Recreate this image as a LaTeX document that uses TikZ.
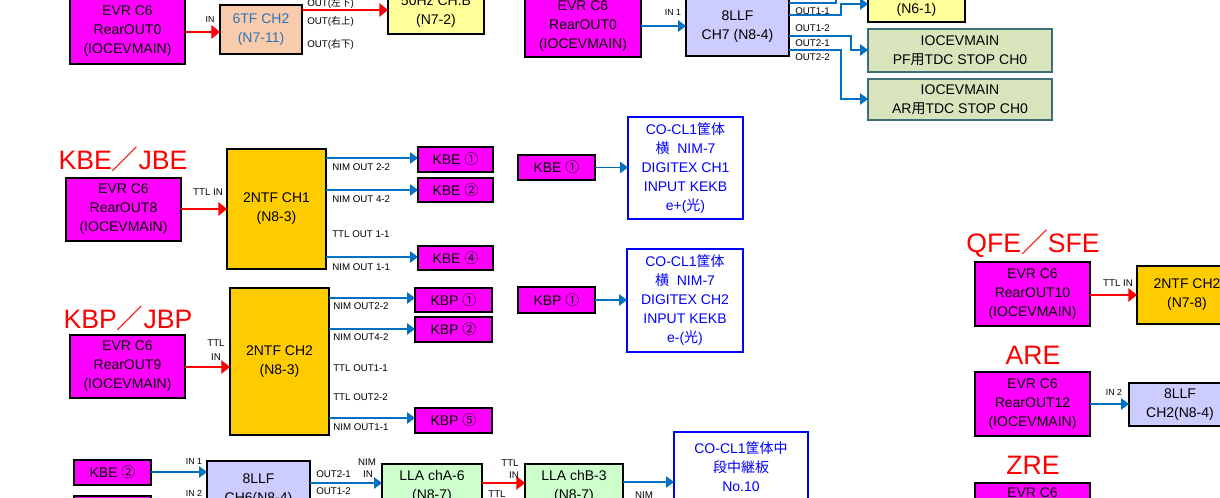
\documentclass[tikz,border=0pt]{standalone}
\usepackage{fontspec}
\setmainfont{Liberation Sans}
\newfontfamily\jp{Noto Sans CJK JP}
\usetikzlibrary{arrows.meta}
\definecolor{mag}{HTML}{FF00FF}
\definecolor{peach}{HTML}{F8CBAD}
\definecolor{lyel}{HTML}{FFFF99}
\definecolor{lav}{HTML}{CCCCFF}
\definecolor{gold}{HTML}{FFCC00}
\definecolor{lgrn}{HTML}{CCFFCC}
\definecolor{pfg}{HTML}{D8E4BC}
\definecolor{pfb}{HTML}{3E6E78}
\definecolor{arrb}{HTML}{0070C0}
\definecolor{tfb}{HTML}{2E75B6}
\definecolor{cob}{HTML}{0000FF}
\newcommand\mybox[7]{%
  \node[#2, minimum width={((#5)-(#3))*0.75pt}, minimum height={((#6)-(#4))*0.75pt}] (#1) at ({((#3)+(#5))/2},{((#4)+(#6))/2}) {#7};}
\tikzset{
  bx/.style={draw=black, line width=1.4pt, inner sep=0pt, outer sep=0pt, align=center,
    font=\fontsize{10.5pt}{14.25pt}\selectfont},
  magbox/.style={bx, fill=mag},
  peachbox/.style={bx, fill=peach, text=tfb},
  yelbox/.style={bx, fill=lyel},
  lavbox/.style={bx, fill=lav},
  goldbox/.style={bx, fill=gold},
  grnbox/.style={bx, fill=lgrn},
  pfbox/.style={bx, draw=pfb, fill=pfg},
  cobox/.style={bx, draw=cob, fill=white, text=cob},
  redarr/.style={draw=red, line width=1.5pt, -{Triangle[length=6.5pt,width=10pt]}},
  bluearr/.style={draw=arrb, line width=1.3pt, -{Triangle[length=6pt,width=8.5pt]}},
  blueline/.style={draw=arrb, line width=1.3pt},
  lbl/.style={inner sep=0pt, font=\fontsize{7.3pt}{8pt}\selectfont},
  lbls/.style={inner sep=0pt, font=\fontsize{6.6pt}{8pt}\selectfont},
  ttl/.style={inner sep=0pt, text=red, font=\fontsize{20pt}{22pt}\selectfont},
}
\begin{document}
\begin{tikzpicture}[x=0.75pt,y=-0.75pt]
\useasboundingbox (0,0) rectangle (1220,498);
\clip (0,0) rectangle (1220,498);
\fill[white] (0,0) rectangle (1220,498);

% ---------- top left
\mybox{evrA}{magbox}{70}{-2}{185}{64}{EVR C6\\RearOUT0\\(IOCEVMAIN)}
\mybox{tf6}{peachbox}{220}{5}{302}{54}{6TF CH2\\(N7-11)}
\mybox{hz50}{yelbox}{388}{-10}{484}{34}{50Hz CH.B\\(N7-2)}
\draw[redarr] (evrA.east |- 0,32) -- (tf6.west |- 0,32);
\node[lbls] (lIN) at (210,19) {IN};
\draw[redarr] (tf6.east |- 0,10) -- (hz50.west |- 0,10);
\node[lbl, anchor=west] (o1) at (307,3) {OUT({\jp 左下})};
\node[lbl, anchor=west] (o2) at (307,21) {OUT({\jp 右上})};
\node[lbl, anchor=west] (o3) at (307,44) {OUT({\jp 右下})};

% ---------- top middle
\mybox{evrB}{magbox}{525}{-5}{641}{57}{EVR C6\\RearOUT0\\(IOCEVMAIN)}
\mybox{llf7}{lavbox}{686}{-2}{789}{56}{8LLF\\CH7 (N8-4)}
\mybox{n61}{yelbox}{868}{-2}{965}{22}{(N6-1)}
\mybox{pf}{pfbox}{868}{29}{1052}{72}{IOCEVMAIN\\PF{\jp 用}TDC STOP CH0}
\mybox{ar}{pfbox}{868}{79}{1052}{120}{IOCEVMAIN\\AR{\jp 用}TDC STOP CH0}
\draw[bluearr] (evrB.east |- 0,26) -- (llf7.west |- 0,26);
\node[lbls] (lIN1) at (673,12) {IN 1};
\draw[blueline] (llf7.east |- 0,3) -- (836,3) -- (836,-5);
\draw[bluearr] (llf7.east |- 0,15) -- (841,15) -- (841,4) -- (n61.west |- 0,4);
\draw[bluearr] (llf7.east |- 0,36) -- (851,36) -- (851,50) -- (pf.west |- 0,50);
\draw[bluearr] (llf7.east |- 0,50) -- (841,50) -- (841,99) -- (ar.west |- 0,99);
\node[lbl, anchor=west] at (795,11) {OUT1-1};
\node[lbl, anchor=west] at (795,28) {OUT1-2};
\node[lbl, anchor=west] at (795,43) {OUT2-1};
\node[lbl, anchor=west] at (795,57) {OUT2-2};

% ---------- KBE
\node[ttl] (tKBE) at (123,159) {KBE{\jp ／}JBE};
\mybox{evr8}{magbox}{66}{178}{181}{241}{EVR C6\\RearOUT8\\(IOCEVMAIN)}
\mybox{ntf1}{goldbox}{227}{149}{326}{269}{2NTF CH1\\(N8-3)}
\mybox{kbe1}{magbox}{418}{147}{493}{172}{KBE {\jp ①}}
\mybox{kbe2}{magbox}{418}{178}{493}{202}{KBE {\jp ②}}
\mybox{kbe4}{magbox}{418}{246}{493}{270}{KBE {\jp ④}}
\draw[redarr] (evr8.east |- 0,209) -- (ntf1.west |- 0,209);
\node[lbl] at (208,192) {TTL IN};
\draw[bluearr] (ntf1.east |- 0,158) -- (kbe1.west |- 0,158);
\draw[bluearr] (ntf1.east |- 0,190) -- (kbe2.west |- 0,190);
\draw[bluearr] (ntf1.east |- 0,257) -- (kbe4.west |- 0,257);
\node[lbl, anchor=west] at (332,167) {NIM OUT 2-2};
\node[lbl, anchor=west] at (332,199) {NIM OUT 4-2};
\node[lbl, anchor=west] at (332,234) {TTL OUT 1-1};
\node[lbl, anchor=west] at (332,267) {NIM OUT 1-1};

% ---------- KBP
\node[ttl] (tKBP) at (128,318) {KBP{\jp ／}JBP};
\mybox{evr9}{magbox}{70}{335}{185}{398}{EVR C6\\RearOUT9\\(IOCEVMAIN)}
\mybox{ntf2}{goldbox}{230}{288}{329}{435}{2NTF CH2\\(N8-3)}
\mybox{kbp1}{magbox}{415}{288}{492}{312}{KBP {\jp ①}}
\mybox{kbp2}{magbox}{415}{317}{492}{342}{KBP {\jp ②}}
\mybox{kbp5}{magbox}{415}{408}{492}{433}{KBP {\jp ⑤}}
\draw[redarr] (evr9.east |- 0,367) -- (ntf2.west |- 0,367);
\node[lbl] at (216,343) {TTL};
\node[lbl] at (216,357) {IN};
\draw[bluearr] (ntf2.east |- 0,298) -- (kbp1.west |- 0,298);
\draw[bluearr] (ntf2.east |- 0,329) -- (kbp2.west |- 0,329);
\draw[bluearr] (ntf2.east |- 0,418) -- (kbp5.west |- 0,418);
\node[lbl, anchor=west] at (333,306) {NIM OUT2-2};
\node[lbl, anchor=west] at (333,337) {NIM OUT4-2};
\node[lbl, anchor=west] at (333,368) {TTL OUT1-1};
\node[lbl, anchor=west] at (333,397) {TTL OUT2-2};
\node[lbl, anchor=west] at (333,427) {NIM OUT1-1};

% ---------- middle CO-CL1
\mybox{kbe1b}{magbox}{518}{155}{595}{180}{KBE {\jp ①}}
\mybox{co1}{cobox}{628}{117}{743}{219}{CO-CL1{\jp 筐体}\\{\jp 横}\ \ NIM-7\\DIGITEX CH1\\INPUT KEKB\\e+({\jp 光})}
\draw[bluearr] (kbe1b.east) -- (co1.west |- kbe1b.east);
\mybox{kbp1b}{magbox}{518}{287}{595}{313}{KBP {\jp ①}}
\mybox{co2}{cobox}{627}{249}{743}{352}{CO-CL1{\jp 筐体}\\{\jp 横}\ \ NIM-7\\DIGITEX CH2\\INPUT KEKB\\e-({\jp 光})}
\draw[bluearr] (kbp1b.east) -- (co2.west |- kbp1b.east);

% ---------- bottom chain
\mybox{kbe2b}{magbox}{74}{460}{151}{485}{KBE {\jp ②}}
\mybox{kbx}{magbox}{74}{496}{151}{521}{}
\mybox{llf6}{lavbox}{207}{461}{310}{518}{8LLF\\CH6(N8-4)}
\mybox{llaA}{grnbox}{382}{464}{482}{509}{LLA chA-6\\(N8-7)}
\mybox{llaB}{grnbox}{525}{464}{623}{509}{LLA chB-3\\(N8-7)}
\mybox{co3}{cobox}{674}{432}{808}{501}{CO-CL1{\jp 筐体中}\\{\jp 段中継板}\\No.10}
\draw[bluearr] (kbe2b.east |- 0,472) -- (llf6.west |- 0,472);
\node[lbls] at (194,461) {IN 1};
\node[lbls] at (194,493) {IN 2};
\draw[bluearr] (llf6.east |- 0,483) -- (llaA.west |- 0,483);
\node[lbl, anchor=west] at (316,474) {OUT2-1};
\node[lbl, anchor=west] at (316,491) {OUT1-2};
\node[lbl] at (367,462) {NIM};
\node[lbl] at (368,474) {IN};
\draw[redarr] (llaA.east |- 0,483) -- (llaB.west |- 0,483);
\node[lbl] at (510,463) {TTL};
\node[lbl] at (514,475) {IN};
\node[lbl] at (497,494) {TTL};
\draw[bluearr] (llaB.east |- 0,482) -- (co3.west |- 0,482);
\node[lbl] at (644,495) {NIM};

% ---------- right side
\node[ttl] (tQFE) at (1033,244) {QFE{\jp ／}SFE};
\mybox{evr10}{magbox}{975}{262}{1090}{326}{EVR C6\\RearOUT10\\(IOCEVMAIN)}
\mybox{ntf3}{goldbox}{1137}{266}{1237}{324}{2NTF CH2\\(N7-8)}
\draw[redarr] (evr10.east |- 0,295) -- (ntf3.west |- 0,295);
\node[lbl] at (1118,283) {TTL IN};
\node[ttl] (tARE) at (1033,355) {ARE};
\mybox{evr12}{magbox}{975}{372}{1090}{436}{EVR C6\\RearOUT12\\(IOCEVMAIN)}
\mybox{llf2}{lavbox}{1129}{383}{1231}{426}{8LLF\\CH2(N8-4)}
\draw[bluearr] (evr12.east |- 0,404) -- (llf2.west |- 0,404);
\node[lbls] at (1114,392) {IN 2};
\node[ttl] (tZRE) at (1033,465) {ZRE};
\mybox{evrZ}{magbox}{975}{483}{1090}{503}{EVR C6}
\end{tikzpicture}
\end{document}
